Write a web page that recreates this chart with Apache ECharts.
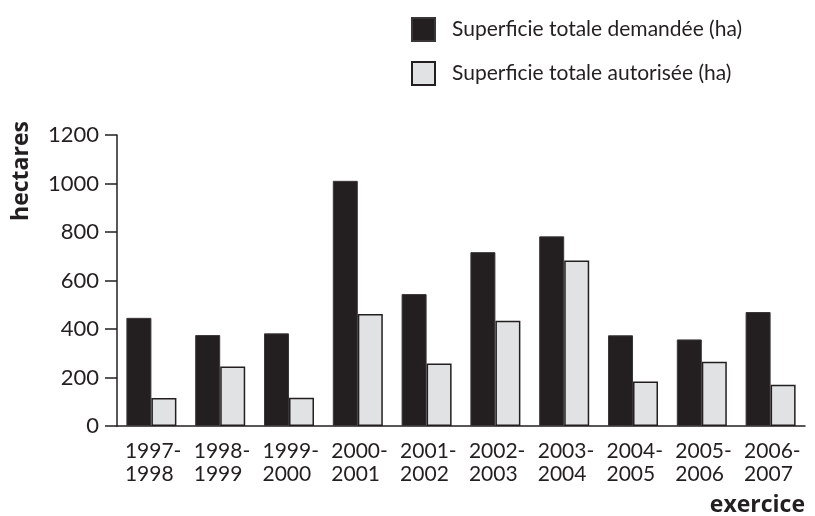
<!DOCTYPE html>
<html>
<head>
<meta charset="utf-8">
<script src="https://cdn.jsdelivr.net/npm/echarts@6/dist/echarts.min.js"></script>
<style>html,body{margin:0;padding:0;background:#fff}#c{width:815px;height:516px}</style>
</head>
<body>
<div id="c"></div>
<script>
var categories = [["1997-","1998"],["1998-","1999"],["1999-","2000"],["2000-","2001"],["2001-","2002"],["2002-","2003"],["2003-","2004"],["2004-","2005"],["2005-","2006"],["2006-","2007"]];
var demandee = [446, 375, 382, 1011, 544, 717, 782, 374, 357, 470];
var autorisee = [115, 245, 117, 462, 258, 434, 682, 184, 265, 170];
var yTicks = [0, 200, 400, 600, 800, 1000, 1200];
var seriesNames = ["Superficie totale demandée (ha)", "Superficie totale autorisée (ha)"];

var FONT = "Lato, 'DejaVu Sans', sans-serif";
var BFONT = "'Open Sans', Lato, sans-serif";
var INK = "#231f20";
var chart = echarts.init(document.getElementById('c'), null, {renderer: 'canvas'});
chart.setOption({
  animation: false,
  textStyle: {fontFamily: FONT, color: INK},
  legend: {
    orient: 'vertical', left: 406, top: 12,
    itemWidth: 23, itemHeight: 23, itemGap: 19,
    icon: 'rect',
    textStyle: {fontSize: 21, color: INK, fontFamily: FONT, padding: [0, 0, 0, 12]},
    data: seriesNames
  },
  grid: {left: 117, right: 10, top: 135, bottom: 90, containLabel: false},
  xAxis: {
    type: 'category',
    data: categories.map(function (c) { return c.join('\n'); }),
    boundaryGap: true,
    axisLine: {lineStyle: {color: INK, width: 1.5}},
    axisTick: {inside: true, length: 7, lineStyle: {color: INK, width: 1.5}},
    axisLabel: {
      margin: 14, fontSize: 21, lineHeight: 23, color: INK, fontFamily: FONT, interval: 0,
      formatter: function (v) {
        var p = v.split('\n');
        return '{a|' + p[0] + '}\n{a|' + p[1] + '}';
      },
      rich: {a: {width: 53, align: 'left', fontSize: 21, lineHeight: 23, fontFamily: FONT, color: INK}}
    }
  },
  yAxis: {
    type: 'value', min: yTicks[0], max: yTicks[yTicks.length - 1], interval: 200,
    axisLine: {show: true, lineStyle: {color: INK, width: 1.5}},
    axisTick: {show: true, length: 12, lineStyle: {color: INK, width: 1.5}},
    splitLine: {show: false},
    axisLabel: {margin: 18, fontSize: 22, color: INK, fontFamily: FONT,
      formatter: function (v) { return String(v); }}
  },
  series: [
    {name: seriesNames[0], type: 'bar', data: demandee, barWidth: 25, barGap: '0%',
      itemStyle: {color: INK, borderColor: '#3a3637', borderWidth: 1}},
    {name: seriesNames[1], type: 'bar', data: autorisee, barWidth: 25, barGap: '0%',
      itemStyle: {color: '#e1e2e4', borderColor: INK, borderWidth: 1.5}}
  ],
  graphic: [
    {type: 'text', x: 21, y: 171, rotation: Math.PI / 2,
      style: {text: 'hectares', font: 'bold 23px ' + BFONT, fill: INK, align: 'center', verticalAlign: 'middle'}},
    {type: 'text', x: 805, y: 505,
      style: {text: 'exercice', font: 'bold 23px ' + BFONT, fill: INK, align: 'right', verticalAlign: 'middle'}}
  ]
});
</script>
</body>
</html>
